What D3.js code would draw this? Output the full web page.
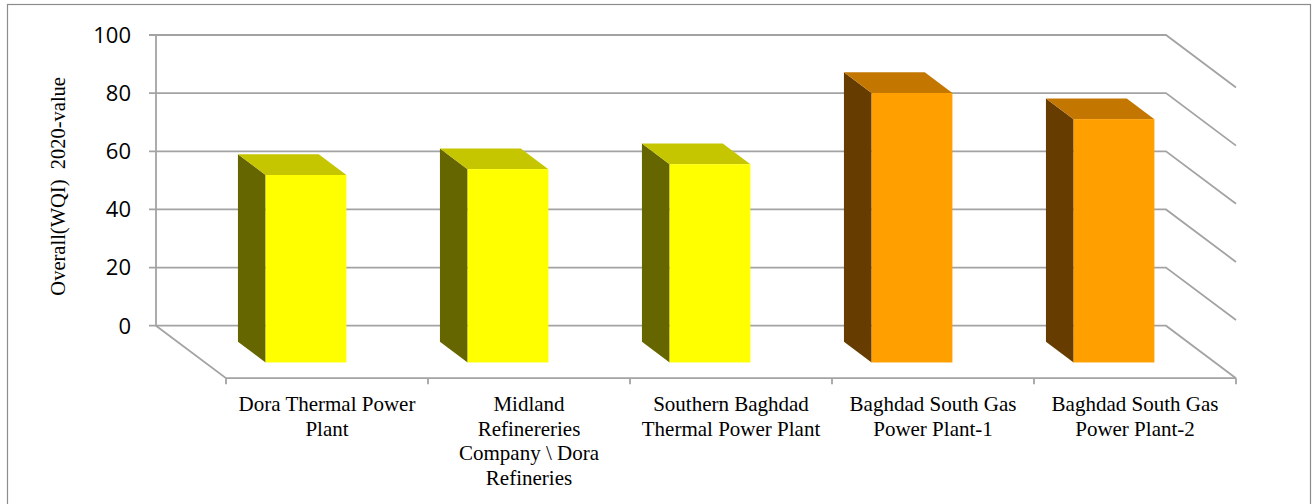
<!DOCTYPE html>
<html>
<head>
<meta charset="utf-8">
<script src="https://cdn.jsdelivr.net/npm/d3@7"></script>
<style>
  body { margin: 0; background: #fff; }
  svg { display: block; }
</style>
</head>
<body>
<div id="chart"></div>
<script>
// data
const categories = ["Dora Thermal Power Plant", "Midland Refinereries Company \\ Dora Refineries",
    "Southern Baghdad Thermal Power Plant", "Baghdad South Gas Power Plant-1", "Baghdad South Gas Power Plant-2"]
const tickLines = [
    ["Dora Thermal Power", "Plant"],
    ["Midland", "Refinereries", "Company \\ Dora", "Refineries"],
    ["Southern Baghdad", "Thermal Power Plant"],
    ["Baghdad South Gas", "Power Plant-1"],
    ["Baghdad South Gas", "Power Plant-2"]
]
const wqiValues = [64.5, 66.5, 68.2, 92.7, 83.7]
const yTicks = [0, 20, 40, 60, 80, 100]

var W = 1312, H = 504
// back wall and depth offset of the 3d box
var wall = { left: 156, right: 1166, top: 35, bottom: 325.7 }
var depth = { dx: 70, dy: 52.5 }
var barFront = 0.70, barBack = 0.305

var svg = d3.select("#chart").append("svg")
    .attr("width", W)
    .attr("height", H)

// outer frame
svg.append("rect")
    .attr("x", 7.5).attr("y", 4.5)
    .attr("width", 1303).attr("height", 520)
    .attr("fill", "none")
    .attr("stroke", "#8c8c8c")
    .attr("stroke-width", 1.2)

var x = d3.scaleBand()
    .domain(categories)
    .range([wall.left, wall.right])
    .paddingInner(0.6)
    .paddingOuter(0.3)

var xFloor = d3.scaleBand()
    .domain(categories)
    .range([wall.left + depth.dx, wall.right + depth.dx])

var y = d3.scaleLinear()
    .domain([0, 100])
    .range([wall.bottom, wall.top])

var gridColor = "#a3a3a3"
var grid = svg.append("g")
    .attr("stroke", gridColor)
    .attr("stroke-width", 1.8)
    .attr("fill", "none")

// back wall gridlines, running into the right side wall
grid.selectAll(".grid")
    .data(yTicks)
    .enter().append("path")
    .attr("class", "grid")
    .attr("d", d => "M" + (wall.left - 7) + "," + y(d) + "H" + wall.right
        + "L" + (wall.right + depth.dx) + "," + (y(d) + depth.dy))

// vertical axis line
grid.append("line")
    .attr("x1", wall.left).attr("x2", wall.left)
    .attr("y1", y(100)).attr("y2", y(0))

// floor: left edge and front edge
grid.append("path")
    .attr("d", "M" + wall.left + "," + y(0) + "L" + (wall.left + depth.dx) + "," + (y(0) + depth.dy)
        + "H" + (wall.right + depth.dx))

// category ticks on the front edge
var floorTicks = categories.map(c => xFloor(c)).concat([wall.right + depth.dx])
grid.selectAll(".xtick")
    .data(floorTicks)
    .enter().append("line")
    .attr("class", "xtick")
    .attr("x1", d => d).attr("x2", d => d)
    .attr("y1", y(0) + depth.dy).attr("y2", y(0) + depth.dy + 6)

// y tick labels
svg.selectAll(".ylab")
    .data(yTicks)
    .enter().append("text")
    .attr("class", "ylab")
    .attr("x", 131)
    .attr("y", d => y(d))
    .attr("dy", "0.36em")
    .attr("text-anchor", "end")
    .attr("font-family", "Open Sans, Liberation Sans, sans-serif")
    .attr("font-size", "22px")
    .attr("fill", "#000")
    .text(d => d)

// y title
svg.append("text")
    .attr("transform", "translate(65," + ((y(0) + y(100)) / 2 + 6) + ") rotate(-90)")
    .attr("text-anchor", "middle")
    .attr("font-family", "Liberation Serif, Times New Roman, serif")
    .attr("font-size", "20.5px")
    .attr("fill", "#000")
    .style("white-space", "pre")
    .text("Overall(WQI)  2020-value")

// x tick labels
var xlab = svg.selectAll(".xlab")
    .data(categories)
    .enter().append("text")
    .attr("class", "xlab")
    .attr("text-anchor", "middle")
    .attr("font-family", "Liberation Serif, Times New Roman, serif")
    .attr("font-size", "21px")
    .attr("fill", "#000")

xlab.selectAll("tspan")
    .data((d, i) => tickLines[i].map(t => ({ t: t, c: d })))
    .enter().append("tspan")
    .attr("x", d => xFloor(d.c) + xFloor.bandwidth() / 2)
    .attr("y", (d, i) => 411 + i * 24.6)
    .text(d => d.t)

// colour class by WQI value
var palette = d3.scaleThreshold()
    .domain([75])
    .range([
        { front: "#ffff00", side: "#666600", top: "#c5c500" },
        { front: "#ff9f00", side: "#663c00", top: "#c47700" }
    ])

var dd = barFront - barBack
var bars = svg.selectAll(".bar")
    .data(wqiValues)
    .enter().append("g")
    .attr("class", "bar")

function frontX(i) { return x(categories[i]) + barFront * depth.dx }
function frontY(v) { return y(v) + barFront * depth.dy }

// left side face
bars.append("path")
    .attr("fill", d => palette(d).side)
    .attr("d", (d, i) => {
        var x0 = frontX(i), yt = frontY(d), yb = frontY(0)
        return "M" + x0 + "," + yt + "V" + yb
            + "L" + (x0 - dd * depth.dx) + "," + (yb - dd * depth.dy)
            + "V" + (yt - dd * depth.dy) + "Z"
    })

// top face
bars.append("path")
    .attr("fill", d => palette(d).top)
    .attr("d", (d, i) => {
        var x0 = frontX(i), x1 = x0 + x.bandwidth(), yt = frontY(d)
        return "M" + x0 + "," + yt + "H" + x1
            + "L" + (x1 - dd * depth.dx) + "," + (yt - dd * depth.dy)
            + "H" + (x0 - dd * depth.dx) + "Z"
    })

// front face
bars.append("rect")
    .attr("fill", d => palette(d).front)
    .attr("x", (d, i) => frontX(i))
    .attr("y", d => frontY(d))
    .attr("width", x.bandwidth())
    .attr("height", d => frontY(0) - frontY(d))
</script>
</body>
</html>
